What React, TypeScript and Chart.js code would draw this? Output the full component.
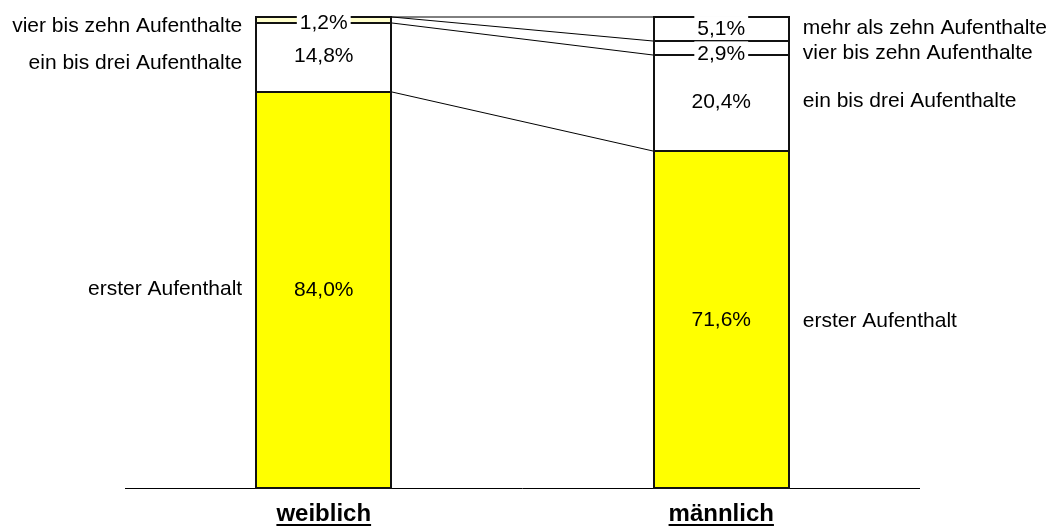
import { useEffect, useRef } from 'react';
import { Chart, registerables } from 'chart.js';

Chart.register(...registerables);

const categories = ['weiblich', 'männlich'];
const seriesNames = [
  'erster Aufenthalt',
  'ein bis drei Aufenthalte',
  'vier bis zehn Aufenthalte',
  'mehr als zehn Aufenthalte',
];
const ersterAufenthalt = [84.0, 71.6];
const einBisDrei = [14.8, 20.4];
const vierBisZehn = [1.2, 2.9];
const mehrAlsZehn = [0, 5.1];

const FONT = "'Liberation Sans', Arial, sans-serif";

// small visual nudges (px) for label placement, [dataset][category]
const valueNudge = [
  [-1, 0],
  [-2.5, -2],
  [2, 5.5],
  [0, -1],
];
const sideNudge = [
  [-1.5, 0.5],
  [4.5, -3],
  [5, 4],
  [0, -2],
];

export default function App() {
  const ref = useRef<HTMLCanvasElement>(null);

  useEffect(() => {
    const canvas = ref.current!;
    const seriesValues = [ersterAufenthalt, einBisDrei, vierBisZehn, mehrAlsZehn];
    const fills = [
      ['#FFFF00', '#FFFF00'],
      ['#FFFFFF', '#FFFFFF'],
      ['#FFFFCC', '#FFFFFF'],
      ['#FFFFFF', '#FFFFFF'],
    ];

    const plugin = {
      id: 'customDraw',
      afterDatasetsDraw(chart: any) {
        const ctx = chart.ctx as CanvasRenderingContext2D;
        const area = chart.chartArea;
        const xs = chart.scales.x;
        ctx.save();

        // axis line
        ctx.strokeStyle = '#000';
        ctx.lineWidth = 1;
        ctx.beginPath();
        ctx.moveTo(area.left, Math.round(area.bottom) + 0.5);
        ctx.lineTo(area.right, Math.round(area.bottom) + 0.5);
        ctx.stroke();

        // bar borders
        ctx.strokeStyle = '#111';
        ctx.lineWidth = 2;
        for (let d = 0; d < seriesValues.length; d++) {
          const meta = chart.getDatasetMeta(d);
          for (let i = 0; i < categories.length; i++) {
            if (!seriesValues[d][i]) continue;
            const bar = meta.data[i];
            const l = Math.round(bar.x - bar.width / 2);
            const r = Math.round(bar.x + bar.width / 2);
            const t = Math.round(bar.y);
            const b = Math.round(bar.base);
            ctx.strokeRect(l, t, r - l, b - t);
          }
        }

        // series lines
        ctx.strokeStyle = '#000';
        ctx.lineWidth = 1;
        for (let d = 0; d < seriesValues.length; d++) {
          const meta = chart.getDatasetMeta(d);
          const a = meta.data[0];
          const b = meta.data[1];
          ctx.beginPath();
          ctx.moveTo(Math.round(a.x + a.width / 2) + 1, Math.round(a.y));
          ctx.lineTo(Math.round(b.x - b.width / 2) - 1, Math.round(b.y));
          ctx.stroke();
        }

        // value labels
        ctx.font = `21px ${FONT}`;
        ctx.textAlign = 'center';
        ctx.textBaseline = 'middle';
        for (let d = 0; d < seriesValues.length; d++) {
          const meta = chart.getDatasetMeta(d);
          for (let i = 0; i < categories.length; i++) {
            const v = seriesValues[d][i];
            if (!v) continue;
            const bar = meta.data[i];
            const cy = (bar.y + bar.base) / 2 + valueNudge[d][i];
            const txt = v.toFixed(1).replace('.', ',') + '%';
            if (v < 10) {
              const w = ctx.measureText(txt).width + 6;
              ctx.fillStyle = '#FFFFFF';
              ctx.fillRect(bar.x - w / 2, cy - 12, w, 24);
            }
            ctx.fillStyle = '#000';
            ctx.fillText(txt, bar.x, cy + 1);
          }
        }

        // side labels
        for (let d = 0; d < seriesValues.length; d++) {
          const meta = chart.getDatasetMeta(d);
          for (let i = 0; i < categories.length; i++) {
            const v = seriesValues[d][i];
            if (!v) continue;
            const bar = meta.data[i];
            const cy = (bar.y + bar.base) / 2 + sideNudge[d][i];
            ctx.fillStyle = '#000';
            if (i === 0) {
              ctx.textAlign = 'right';
              ctx.fillText(seriesNames[d], bar.x - bar.width / 2 - 14, cy + 1);
            } else {
              ctx.textAlign = 'left';
              ctx.fillText(seriesNames[d], bar.x + bar.width / 2 + 14, cy + 1);
            }
          }
        }

        // category labels (bold, underlined)
        ctx.font = `bold 24px ${FONT}`;
        ctx.textAlign = 'center';
        ctx.textBaseline = 'alphabetic';
        for (let i = 0; i < categories.length; i++) {
          const cx = xs.getPixelForValue(i);
          const base = area.bottom + 33;
          ctx.fillStyle = '#000';
          ctx.fillText(categories[i], cx, base);
          const w = ctx.measureText(categories[i]).width;
          ctx.fillRect(cx - w / 2, base + 3, w, 2);
        }

        ctx.restore();
      },
    };

    const chart = new Chart(canvas, {
      type: 'bar',
      data: {
        labels: categories,
        datasets: seriesValues.map((vals, d) => ({
          label: seriesNames[d],
          data: vals,
          backgroundColor: fills[d],
          borderWidth: 0,
          barPercentage: 0.34,
          categoryPercentage: 1,
        })),
      },
      options: {
        responsive: false,
        animation: false,
        layout: { padding: { left: 125, right: 135, top: 17, bottom: 40 } },
        plugins: {
          legend: { display: false },
          tooltip: { enabled: false },
        },
        scales: {
          x: { stacked: true, display: false },
          y: { stacked: true, display: false, min: 0, max: 100 },
        },
      },
      plugins: [plugin],
    });

    return () => chart.destroy();
  }, []);

  return (
    <div style={{ position: 'fixed', left: 0, top: 0, width: 1055, height: 528, background: '#fff' }}>
      <canvas ref={ref} width={1055} height={528} style={{ display: 'block' }} />
    </div>
  );
}
